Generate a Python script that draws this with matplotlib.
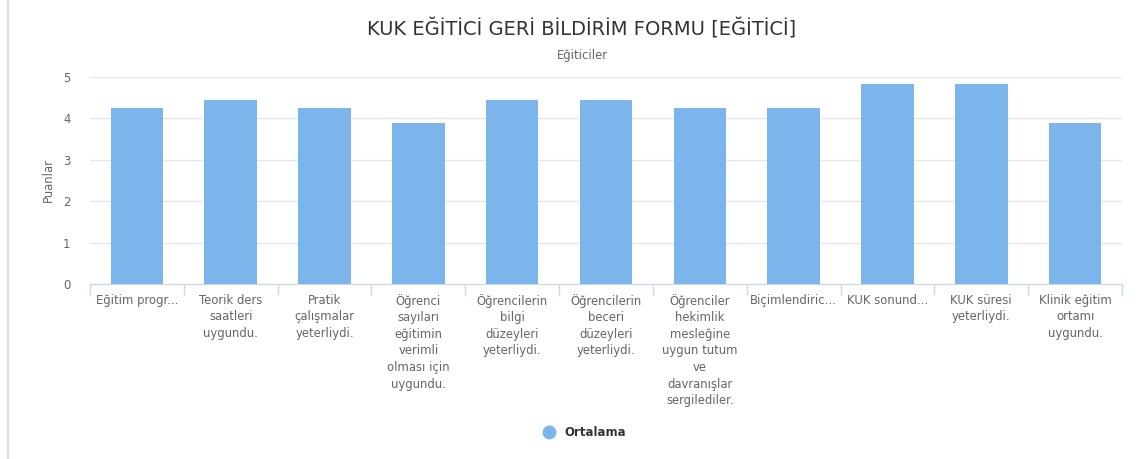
import matplotlib.pyplot as plt
import numpy as np

plt.rcParams['font.family'] = ['DejaVu Sans']

# Data
categories = [
    "Eğitim progr...",
    "Teorik ders\nsaatleri\nuygundu.",
    "Pratik\nçalışmalar\nyeterliydi.",
    "Öğrenci\nsayıları\neğitimin\nverimli\nolması için\nuygundu.",
    "Öğrencilerin\nbilgi\ndüzeyleri\nyeterliydi.",
    "Öğrencilerin\nbeceri\ndüzeyleri\nyeterliydi.",
    "Öğrenciler\nhekimlik\nmesleğine\nuygun tutum\nve\ndavranışlar\nsergilediler.",
    "Biçimlendiric...",
    "KUK sonund...",
    "KUK süresi\nyeterliydi.",
    "Klinik eğitim\nortamı\nuygundu.",
]
ortalama = [4.25, 4.44, 4.25, 3.89, 4.44, 4.44, 4.25, 4.25, 4.83, 4.83, 3.89]

bar_color = '#7cb5ec'
label_color = '#666666'

fig = plt.figure(figsize=(11.41, 4.59), dpi=100)
ax = fig.add_axes([90 / 1141, 1 - 284 / 459, 1032 / 1141, 207 / 459])

x = np.arange(len(categories))
ax.bar(x, ortalama, width=0.56, color=bar_color, zorder=3, label='Ortalama')

ax.set_xlim(-0.5, len(categories) - 0.5)
ax.set_ylim(0, 5)
ax.set_yticks(range(0, 6))
ax.grid(axis='y', color='#e6e6e6', linewidth=1, zorder=0)

for side in ['top', 'right', 'left']:
    ax.spines[side].set_visible(False)
ax.spines['bottom'].set_color('#ccd6eb')

ax.set_xticks(x)
ax.set_xticklabels(categories, fontsize=8.4, color=label_color, linespacing=1.36, va='top')
ax.tick_params(axis='x', which='major', length=0, pad=7)
ax.set_xticks(np.arange(-0.5, len(categories), 1), minor=True)
ax.tick_params(axis='x', which='minor', length=8, color='#ccd6eb', width=1)
ax.tick_params(axis='y', length=0, labelsize=8.4, labelcolor=label_color, pad=14)

ax.set_ylabel('Puanlar', fontsize=8.4, color=label_color, labelpad=6)

fig.text(582 / 1141, 1 - 29 / 459, 'KUK EĞİTİCİ GERİ BİLDİRİM FORMU [EĞİTİCİ]',
         ha='center', va='center', fontsize=14, color='#333333')
fig.text(582 / 1141, 1 - 56 / 459, 'Eğiticiler',
         ha='center', va='center', fontsize=8.4, color=label_color)

handles = [plt.Line2D([], [], marker='o', linestyle='', markersize=9, color=bar_color)]
leg = fig.legend(handles, ['Ortalama'], loc='center', bbox_to_anchor=(582 / 1141, 1 - 433 / 459),
                 frameon=False, handletextpad=0.3, prop={'weight': 'bold', 'size': 8.5})
for t in leg.get_texts():
    t.set_color('#333333')

# left border line of the container
fig.add_artist(plt.Line2D([8 / 1141, 8 / 1141], [0, 1], color='#dddddd', linewidth=1.5))

fig.savefig('out.png', dpi=100)
